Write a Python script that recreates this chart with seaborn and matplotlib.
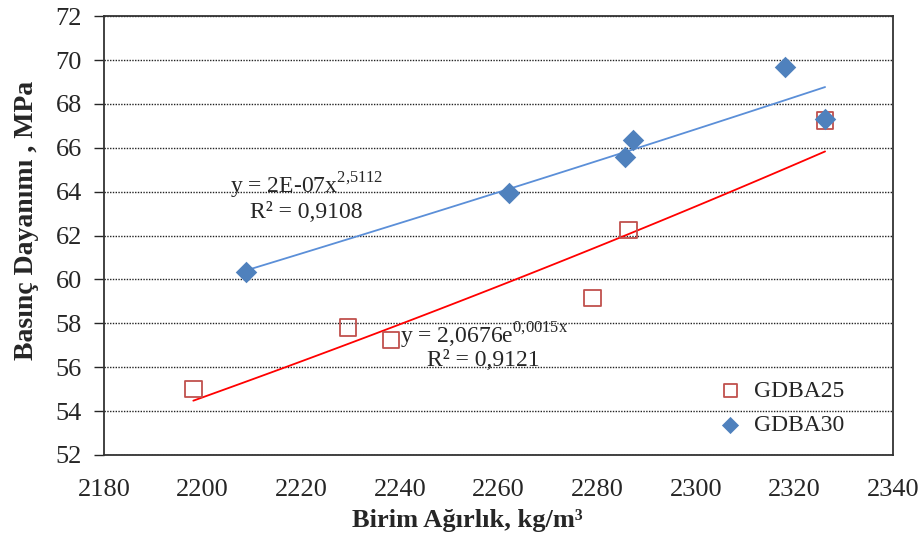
import numpy as np
import pandas as pd
import seaborn as sns
import matplotlib
matplotlib.use("Agg")
import matplotlib.pyplot as plt

# data
x_a25 = [2198.1, 2229.5, 2238.2, 2279.0, 2286.3, 2326.2]
y_a25 = [55.0, 57.8, 57.25, 59.15, 62.25, 67.25]
x_a30 = [2208.8, 2262.1, 2285.7, 2287.3, 2318.1, 2326.2]
y_a30 = [60.35, 63.95, 65.6, 66.35, 69.7, 67.3]
x_ticks = [2180, 2200, 2220, 2240, 2260, 2280, 2300, 2320, 2340]
y_ticks = [52, 54, 56, 58, 60, 62, 64, 66, 68, 70, 72]

sns.set_style("white")
plt.rcParams['font.family'] = ['Liberation Serif', 'DejaVu Serif']
plt.rcParams['mathtext.fontset'] = 'custom'
plt.rcParams['mathtext.rm'] = 'Liberation Serif'

df = pd.concat([
    pd.DataFrame({'x': x_a25, 'y': y_a25, 'seri': 'GDBA25'}),
    pd.DataFrame({'x': x_a30, 'y': y_a30, 'seri': 'GDBA30'}),
])

fig = plt.figure(figsize=(9.24, 5.39), dpi=100)
ax = fig.add_axes([0.1126, 0.156, 0.854, 0.814])

# trend lines: exponential for A25, power for A30
xa = np.array(x_a25); ya = np.array(y_a25)
b, a = np.polyfit(xa, np.log(ya), 1)
xr = np.linspace(xa.min(), xa.max(), 50)
ax.plot(xr, np.exp(a) * np.exp(b * xr), color='#FF0000', lw=1.3, zorder=2)

xb = np.array(x_a30); yb = np.array(y_a30)
p, c = np.polyfit(np.log(xb), np.log(yb), 1)
xr2 = np.linspace(xb.min(), xb.max(), 50)
ax.plot(xr2, np.exp(c) * xr2 ** p, color='#5B8FD8', lw=1.3, zorder=2)

sns.scatterplot(data=df[df.seri == 'GDBA25'], x='x', y='y', ax=ax, marker='s', s=140,
                facecolor='none', edgecolor='#C0504D', linewidth=1.3, label='GDBA25', zorder=3)
sns.scatterplot(data=df[df.seri == 'GDBA30'], x='x', y='y', ax=ax, marker='D', s=120,
                color='#4F81BD', edgecolor='#4F81BD', linewidth=0, label='GDBA30', zorder=4)

ax.set_xlim(2180, 2340)
ax.set_ylim(52, 72)
ax.set_xticks(x_ticks)
ax.set_yticks(y_ticks)
ax.yaxis.grid(True, linestyle=(0, (1, 1)), color='#222222', lw=1.0)
ax.set_axisbelow(True)
for s in ax.spines.values():
    s.set_color('#333333')
    s.set_linewidth(1.3)
ax.tick_params(axis='y', direction='out', length=7, width=1, labelsize=19, left=True, pad=9)
ax.tick_params(axis='x', length=0, labelsize=19, pad=17)

ax.set_xlabel('Birim Ağırlık, kg/m³', fontsize=19, fontweight='bold')
ax.set_ylabel('Basınç Dayanımı , MPa', fontsize=20, fontweight='bold')
ax.xaxis.set_label_coords(0.461, -0.124)
ax.yaxis.set_label_coords(-0.083, 0.535)

ax.text(2221, 64.25, r'y = 2E-07x$^{\mathrm{2{,}5112}}$', fontsize=17, ha='center', va='center')
ax.text(2221, 63.05, 'R² = 0,9108', fontsize=17, ha='center', va='center')
ax.text(2257, 57.45, r'y = 2,0676e$^{\mathrm{0{,}0015x}}$', fontsize=17, ha='center', va='center')
ax.text(2257, 56.3, 'R² = 0,9121', fontsize=17, ha='center', va='center')

ax.legend(loc='center left', bbox_to_anchor=(0.737, 0.106), frameon=False, fontsize=17,
          handletextpad=0.0, labelspacing=0.55, markerscale=0.8)

fig.savefig('out.png', dpi=100)
